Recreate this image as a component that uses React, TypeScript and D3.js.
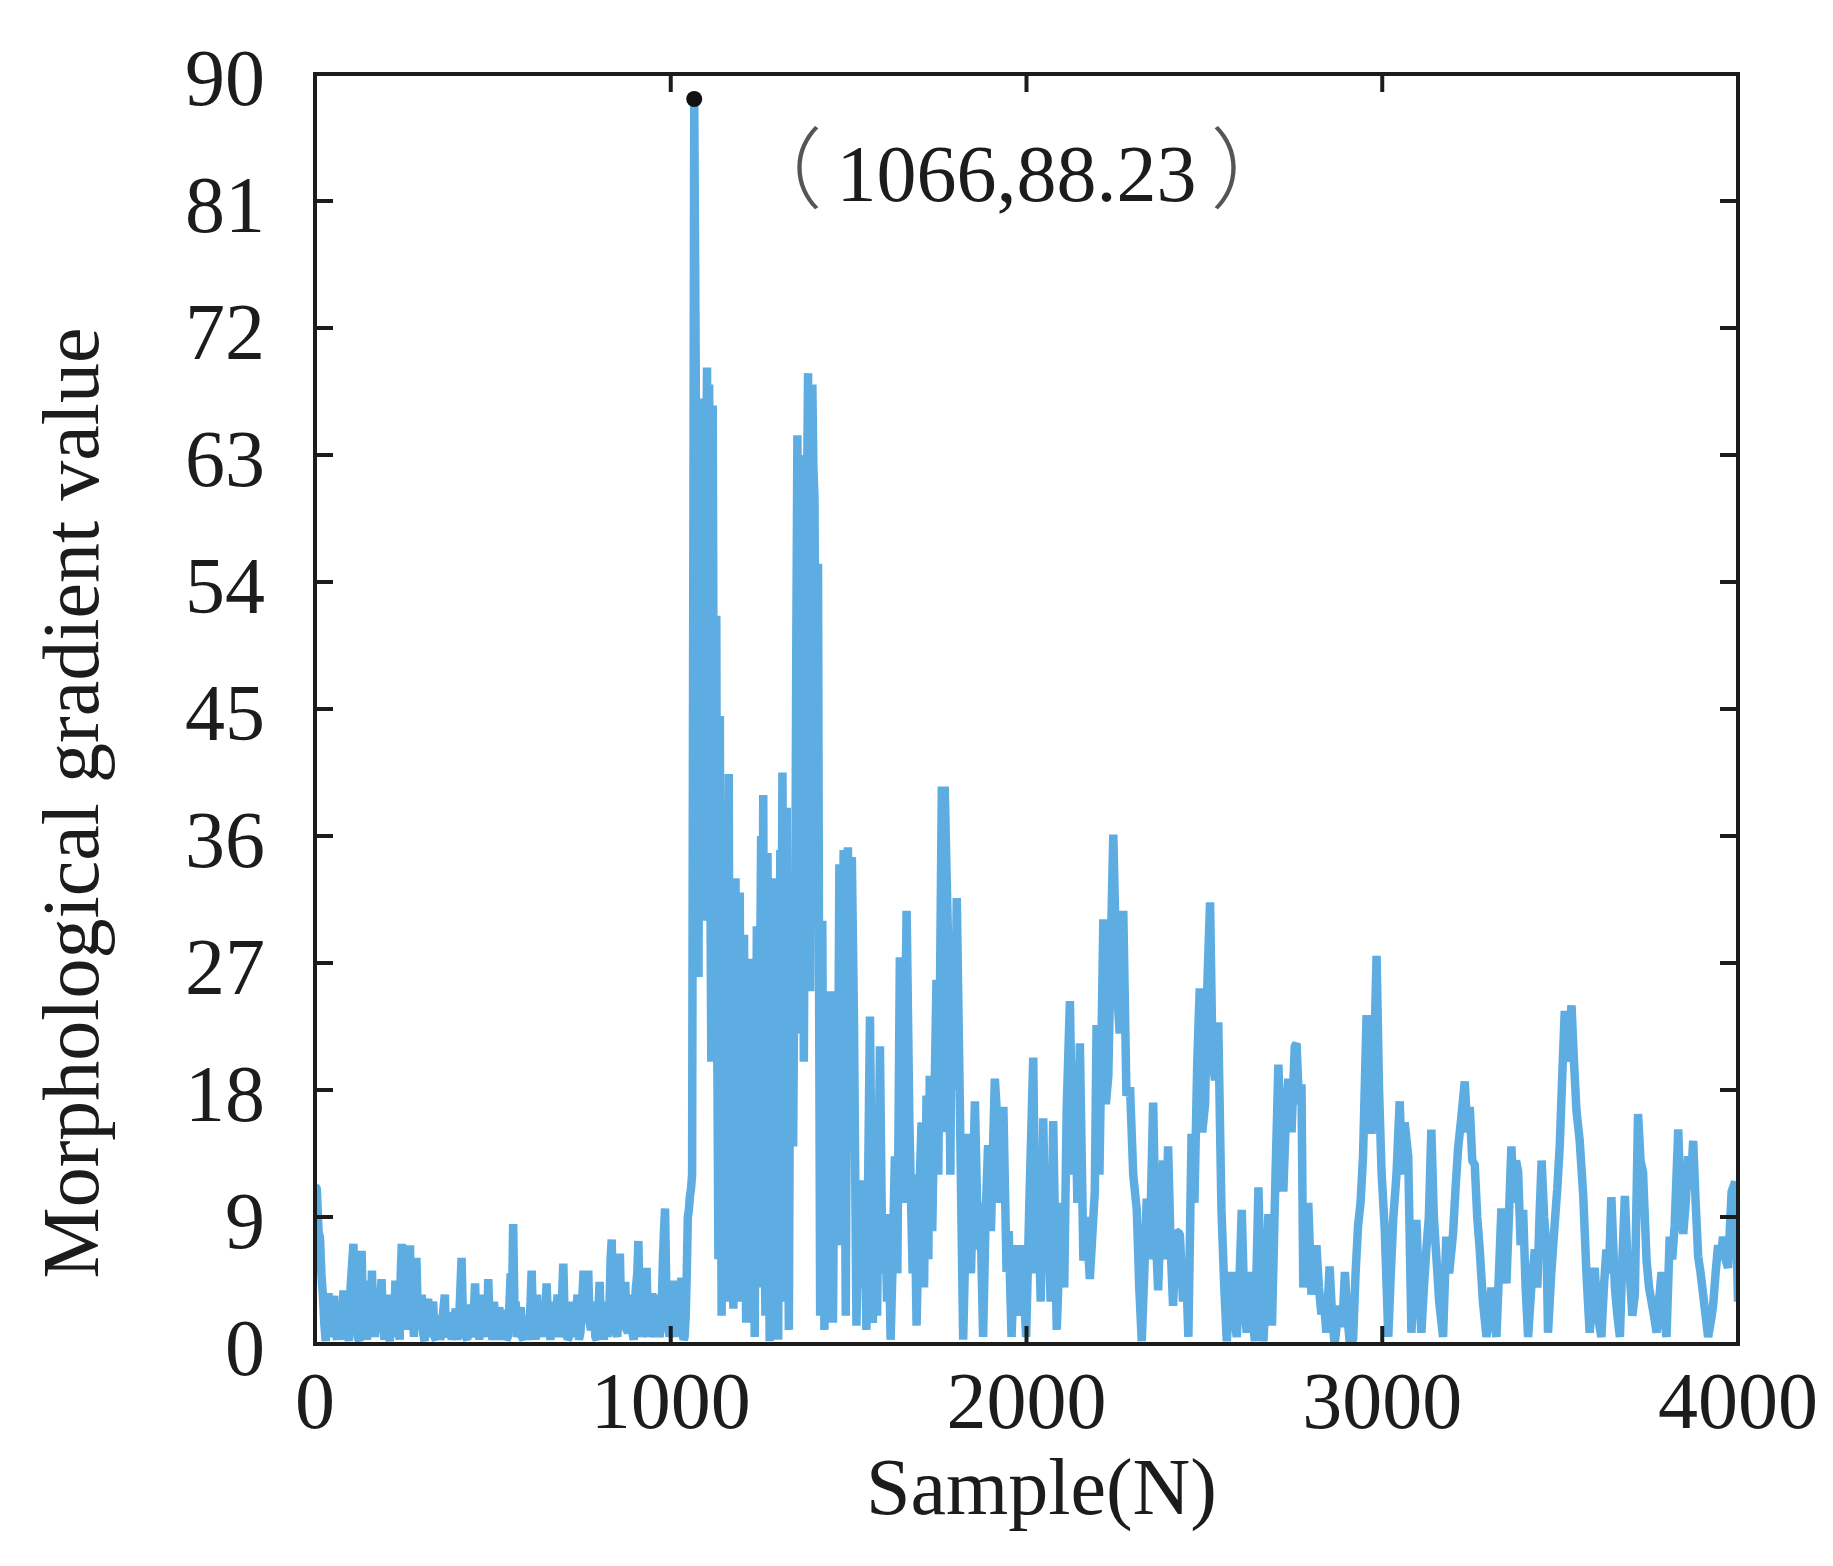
import * as React from "react";
import * as d3 from "d3";

// [sample N, morphological gradient value]
const preFault: [number, number][] = [
  [0, 11.2], [5, 11.0], [10, 8], [14, 7.5], [18, 5], [22, 3.5], [26, 1.5], [30, 0.2], [34, 2.5], [38, 3.6],
  [42, 0.5], [46, 1.0], [50, 2.8], [54, 3.4], [58, 0.8], [62, 0.3], [66, 2.0], [70, 2.5], [75, 0.3], [80, 3.8],
  [85, 0.5], [90, 1.5], [95, 0.2], [100, 4.0], [104, 5.5], [108, 7.1], [112, 2.0], [116, 3.0], [120, 0.5], [124, 0.2],
  [128, 4.5], [131, 6.6], [135, 2.0], [138, 4.5], [142, 1.0], [146, 0.3], [150, 2.0], [154, 2.5], [157, 0.5], [160, 5.2],
  [164, 2.0], [168, 0.5], [172, 2.5], [176, 3.5], [180, 0.8], [184, 3.0], [187, 4.6], [191, 1.5], [195, 0.3], [199, 2.5],
  [203, 3.5], [207, 0.8], [210, 0.2], [214, 2.0], [218, 2.8], [222, 0.5], [226, 4.5], [230, 1.0], [234, 1.5], [238, 0.3],
  [241, 5.0], [244, 7.1], [248, 2.5], [252, 3.0], [255, 1.0], [258, 6.8], [262, 3.5], [267, 7.0], [270, 2.0], [274, 3.0],
  [278, 0.5], [282, 4.0], [285, 6.1], [289, 2.0], [292, 1.0], [296, 2.5], [300, 3.5], [304, 0.8], [308, 0.2], [312, 2.5],
  [318, 3.2], [322, 0.5], [326, 1.0], [329, 2.5], [332, 3.0], [336, 0.5], [340, 0.3], [344, 1.8], [348, 2.0], [352, 0.3],
  [356, 0.8], [360, 2.2], [365, 3.5], [368, 0.8], [372, 0.5], [376, 2.0], [380, 2.2], [384, 0.3], [388, 0.8], [392, 2.0],
  [396, 2.5], [400, 0.3], [404, 1.0], [408, 3.5], [412, 6.1], [416, 1.5], [420, 2.5], [424, 0.5], [428, 0.3], [432, 2.0],
  [436, 2.8], [440, 0.5], [444, 1.0], [447, 2.5], [450, 4.3], [454, 0.8], [458, 1.5], [462, 0.3], [466, 3.5], [470, 1.0],
  [474, 0.5], [477, 2.0], [480, 3.0], [484, 1.0], [487, 4.6], [491, 1.5], [495, 1.2], [499, 0.3], [503, 3.0], [507, 1.0],
  [510, 0.5], [514, 2.0], [518, 2.6], [522, 0.3], [526, 1.0], [530, 2.0], [534, 2.4], [538, 0.3], [542, 0.5], [546, 2.5],
  [550, 5.0], [554, 3.0], [557, 8.5], [561, 2.0], [564, 3.0], [567, 0.5], [570, 0.8], [574, 2.0], [578, 2.6], [582, 0.5],
  [586, 0.3], [590, 1.5], [594, 2.0], [598, 0.3], [602, 1.0], [606, 3.0], [609, 5.2], [613, 1.0], [616, 1.5], [620, 0.3],
  [624, 3.5], [628, 1.0], [632, 0.5], [636, 2.0], [640, 2.5], [644, 0.5], [648, 2.5], [651, 4.3], [655, 1.5], [658, 1.0],
  [662, 0.3], [666, 3.0], [670, 1.0], [674, 0.5], [678, 2.0], [682, 3.5], [686, 0.5], [690, 1.0], [694, 3.0], [698, 5.7],
  [702, 1.5], [706, 2.0], [710, 0.3], [714, 0.5], [718, 2.0], [722, 3.0], [726, 0.5], [730, 1.0], [734, 2.0], [738, 3.5],
  [742, 0.3], [746, 0.8], [750, 2.5], [755, 5.2], [758, 2.0], [762, 3.0], [765, 2.0], [768, 5.2], [772, 1.5], [776, 1.0],
  [780, 2.0], [784, 3.0], [788, 0.5], [792, 0.3], [796, 2.0], [800, 4.4], [804, 1.0], [808, 1.5], [812, 0.3], [816, 3.0],
  [820, 1.0], [824, 0.5], [828, 3.0], [831, 6.0], [834, 7.4], [838, 2.0], [842, 3.0], [846, 1.0], [850, 0.5], [854, 4.0],
  [857, 6.4], [861, 1.5], [864, 2.0], [868, 1.0], [872, 4.4], [876, 1.0], [880, 0.8], [884, 2.5], [888, 3.5], [892, 0.8],
  [896, 0.3], [899, 2.5], [902, 4.0], [906, 5.0], [909, 7.3], [913, 2.0], [916, 3.0], [920, 0.5], [924, 1.0], [928, 3.0],
  [932, 5.4], [936, 1.0], [940, 1.5], [944, 0.5], [948, 3.6], [952, 1.0], [956, 0.5], [960, 2.0], [964, 3.5], [968, 0.5],
  [972, 1.0], [975, 3.0], [978, 6.0], [981, 8.0], [984, 9.6], [988, 3.0], [992, 4.0], [996, 0.5], [1000, 1.0], [1004, 3.0],
  [1007, 4.5], [1011, 1.0], [1014, 1.5], [1018, 0.5], [1022, 3.0], [1026, 1.5], [1030, 4.7], [1033, 1.0], [1036, 0.3], [1039, 0.5],
  [1042, 2.0], [1045, 5.0], [1048, 9.0], [1051, 9.5], [1054, 10.5], [1057, 11.0], [1060, 12.0],
];

const faultBurst: [number, number][] = [
  [1066, 88.23], [1070, 70], [1074, 40], [1078, 26], [1081, 55], [1084, 67], [1087, 45], [1090, 66], [1093, 40], [1096, 30],
  [1099, 60], [1102, 69.2], [1105, 50], [1108, 68], [1111, 35], [1114, 20], [1116, 50], [1118, 66.5], [1121, 40], [1124, 50],
  [1126, 30], [1128, 51.6], [1131, 20], [1134, 6], [1136, 30], [1138, 44.5], [1141, 15], [1143, 2], [1146, 20], [1150, 30],
  [1153, 12], [1156, 3], [1160, 25], [1163, 40.4], [1166, 15], [1170, 28], [1173, 10], [1176, 2.5], [1179, 20], [1182, 33],
  [1185, 18], [1188, 5], [1191, 22], [1194, 32], [1197, 12], [1200, 3], [1203, 20], [1206, 29], [1209, 10], [1212, 1.5],
  [1215, 18], [1218, 27], [1221, 12], [1224, 3], [1227, 18], [1230, 27.3], [1233, 10], [1236, 0.5], [1239, 15], [1242, 29.6],
  [1245, 14], [1248, 4], [1251, 25], [1254, 36], [1257, 20], [1260, 38.9], [1263, 15], [1266, 2], [1269, 20], [1272, 34.8],
  [1275, 12], [1278, 0.2], [1281, 20], [1284, 33], [1287, 18], [1290, 8], [1293, 22], [1296, 30], [1299, 10], [1302, 0.3],
  [1305, 22], [1308, 35], [1311, 25], [1314, 40.5], [1317, 15], [1320, 3], [1323, 25], [1326, 38], [1329, 12], [1332, 1],
  [1335, 20], [1338, 33], [1341, 22], [1344, 14], [1347, 25], [1350, 30], [1353, 50], [1356, 64.4], [1359, 40], [1362, 22],
  [1365, 45], [1368, 63], [1371, 40], [1374, 20], [1377, 35], [1380, 45], [1383, 60], [1386, 68.8], [1389, 45], [1392, 25],
  [1395, 50], [1398, 68], [1401, 62], [1404, 60], [1407, 45], [1410, 30], [1412, 45], [1414, 55.3], [1417, 25], [1420, 2],
  [1423, 18], [1426, 30], [1429, 12], [1432, 1], [1435, 12], [1438, 20], [1441, 10], [1444, 3], [1447, 15], [1450, 25],
  [1453, 10], [1456, 1.5], [1459, 12], [1462, 20], [1465, 12], [1468, 7], [1471, 20], [1474, 34], [1477, 20], [1480, 10],
  [1483, 25], [1486, 35], [1489, 15], [1492, 2], [1495, 20], [1498, 35.2], [1501, 28], [1504, 20], [1507, 28], [1509, 34.5],
];

const afterFault: [number, number][] = [
  [1515, 23.1], [1522, 1.3], [1530, 11.6], [1538, 4], [1545, 11.6], [1550, 1.0], [1560, 23.2], [1568, 1.5], [1575, 10], [1580, 2],
  [1588, 21.1], [1595, 5], [1603, 9.2], [1608, 3], [1612, 9.2], [1618, 0.3], [1624, 6], [1630, 13.3], [1637, 5], [1644, 27.4],
  [1652, 10], [1663, 30.7], [1671, 15.4], [1680, 5], [1685, 12], [1691, 1.3], [1698, 10], [1705, 15.7], [1712, 4], [1719, 17.6],
  [1724, 6], [1728, 19], [1735, 8], [1747, 25.8], [1752, 12], [1762, 39.5], [1766, 15], [1770, 39.5], [1780, 28], [1786, 12],
  [1790, 28.5], [1798, 18], [1804, 31.6], [1813, 16.3], [1822, 0.3], [1829, 8], [1836, 14.9], [1844, 5], [1855, 17.2], [1864, 6.7],
  [1870, 10], [1878, 0.5], [1885, 9], [1892, 14.1], [1900, 8], [1911, 18.8], [1920, 15], [1926, 10], [1935, 16.8], [1944, 5.1],
  [1950, 8], [1958, 0.5], [1967, 7.0], [1975, 2], [1986, 7], [1999, 0.5], [2008, 10], [2019, 20.3], [2026, 5], [2033, 9.5],
  [2040, 3], [2047, 16], [2054, 6], [2061, 8.1], [2068, 3], [2075, 15.8], [2085, 1.0], [2092, 6], [2099, 10], [2106, 4],
  [2113, 16.7], [2122, 24.3], [2130, 12], [2136, 20], [2143, 10], [2150, 21.3], [2160, 5.9], [2168, 9], [2178, 4.6], [2192, 10.8],
  [2197, 22.6], [2205, 12], [2216, 30.1], [2223, 17], [2230, 19], [2237, 28], [2244, 36.1], [2253, 25.8], [2262, 22], [2272, 30.7],
  [2281, 17.6], [2291, 18.2], [2300, 12], [2310, 9.5], [2317, 4], [2324, 0.2], [2331, 5], [2338, 10.3], [2346, 6], [2356, 17.1],
  [2363, 8], [2370, 3.8], [2377, 9], [2384, 13], [2391, 6], [2398, 14], [2405, 7], [2412, 2.7], [2420, 8], [2431, 7.8],
  [2440, 3], [2448, 6], [2455, 0.5], [2464, 14.9], [2472, 10], [2480, 20], [2487, 25.2], [2494, 15], [2502, 17], [2509, 26],
  [2516, 31.3], [2523, 20], [2530, 18.7], [2539, 22.8], [2548, 9.5], [2556, 4], [2563, 0.2], [2570, 3], [2577, 5.1], [2584, 2],
  [2591, 0.5], [2598, 4], [2605, 9.5], [2612, 3], [2619, 0.8], [2628, 5.1], [2635, 2], [2642, 0.2], [2652, 11.1], [2659, 3],
  [2666, 0.2], [2673, 4], [2680, 9.2], [2690, 1.3], [2700, 12], [2708, 19.8], [2715, 14], [2722, 10.8], [2729, 16], [2736, 18.8],
  [2745, 15], [2754, 21.1],
];

const tail: [number, number][] = [
  [2759, 21.3], [2766, 17], [2773, 18.4], [2778, 4], [2785, 7], [2792, 10], [2801, 3.5], [2808, 5], [2815, 7], [2822, 4],
  [2829, 2.1], [2836, 3], [2843, 0.8], [2852, 5.5], [2859, 2], [2866, 0], [2873, 1.5], [2880, 2.7], [2888, 1.2], [2895, 5.1],
  [2902, 2], [2909, 0], [2918, 0.3], [2925, 5], [2932, 8.4], [2939, 10], [2946, 13.3], [2956, 23.3], [2963, 18], [2970, 14.9],
  [2977, 20], [2984, 27.5], [2991, 18], [2998, 12.2], [3007, 8.1], [3017, 0.5], [3024, 5], [3031, 8.9], [3040, 12], [3049, 17.2],
  [3056, 12], [3063, 15.7], [3073, 13.3], [3082, 0.8], [3089, 5], [3096, 8.8], [3103, 4], [3110, 0.8], [3117, 4], [3124, 6.7],
  [3131, 9], [3138, 15.2], [3145, 9], [3152, 6.2], [3160, 3], [3171, 0.5], [3180, 7.6], [3188, 5], [3199, 7.8], [3206, 11],
  [3213, 13.8], [3222, 16], [3232, 18.6], [3239, 15], [3246, 16.8], [3253, 13], [3260, 12.7], [3267, 9], [3274, 6.7], [3283, 3],
  [3293, 0.5], [3300, 2], [3307, 4], [3314, 2], [3321, 0.5], [3328, 5], [3335, 9.6], [3342, 6], [3349, 4.3], [3356, 9],
  [3363, 14], [3370, 10], [3376, 13], [3382, 12.2], [3389, 7], [3396, 9.5], [3403, 4], [3410, 0.5], [3419, 4], [3429, 6.7],
  [3436, 4], [3442, 9], [3448, 13], [3455, 9], [3462, 6.7], [3466, 0.8], [3475, 5], [3485, 8.6], [3492, 11], [3499, 14.1],
  [3506, 19], [3513, 23.6], [3520, 20], [3526, 22], [3532, 24], [3539, 20], [3546, 16.5], [3555, 14.4], [3565, 10.5], [3574, 5],
  [3583, 0.8], [3590, 3], [3597, 5.4], [3606, 2], [3616, 0.5], [3623, 4], [3630, 6.7], [3637, 5], [3644, 10.4], [3654, 4],
  [3661, 2], [3668, 0.5], [3675, 6], [3682, 10.5], [3689, 6], [3696, 4.9], [3703, 2], [3710, 3.5], [3719, 16.3], [3726, 13],
  [3733, 12.2], [3743, 5.9], [3750, 4], [3757, 3], [3764, 2], [3771, 0.8], [3778, 3], [3785, 5.1], [3792, 2], [3799, 0.5],
  [3808, 7.6], [3815, 6], [3822, 8.4], [3832, 15.2], [3839, 10], [3846, 7.8], [3853, 10], [3860, 13.3], [3867, 11], [3874, 14.4],
  [3881, 10], [3888, 6.2], [3895, 5], [3902, 3.5], [3909, 2], [3916, 0.5], [3923, 1.5], [3930, 2.7], [3937, 5], [3944, 7],
  [3951, 6], [3958, 7.6], [3965, 6], [3972, 5.4], [3982, 10.8], [3992, 11.5], [4000, 3],
];

const peak: [number, number] = [1066, 88.23];
const xTicks = [0, 1000, 2000, 3000, 4000];
const yTicks = [0, 9, 18, 27, 36, 45, 54, 63, 72, 81, 90];

const W = 1833;
const H = 1566;
const MARGIN = { top: 74, right: 95, bottom: 222, left: 315 };
const FONT = "'Liberation Serif', 'Times New Roman', serif";
const CJK = "'Noto Sans CJK SC', sans-serif";
const INK = "#1c1c1c";
const TICK = 18;

export default function App() {
  const innerW = W - MARGIN.left - MARGIN.right;
  const innerH = H - MARGIN.top - MARGIN.bottom;

  const x = d3.scaleLinear().domain([0, 4000]).range([0, innerW]);
  const y = d3.scaleLinear().domain([0, 90]).range([innerH, 0]);

  const series = [...preFault, ...faultBurst, ...afterFault, ...tail];
  const line = d3
    .line<[number, number]>()
    .x((d) => x(d[0]))
    .y((d) => y(d[1]));

  return (
    <>
      <style>{"body{margin:0;background:#fff}"}</style>
      <svg width={W} height={H} style={{ display: "block", background: "#fff" }}>
        <defs>
          <clipPath id="plot-clip">
            <rect x={0} y={-10} width={innerW} height={innerH + 10} />
          </clipPath>
        </defs>
        <g transform={`translate(${MARGIN.left},${MARGIN.top})`}>
          <path
            d={line(series) ?? ""}
            fill="none"
            stroke="#5dade2"
            strokeWidth={8.5}
            strokeLinejoin="bevel"
            clipPath="url(#plot-clip)"
          />

          {/* ticks, inward on all four sides */}
          {xTicks.map((t) => (
            <g key={`xt-${t}`} stroke={INK} strokeWidth={4}>
              <line x1={x(t)} x2={x(t)} y1={innerH} y2={innerH - TICK} />
              <line x1={x(t)} x2={x(t)} y1={0} y2={TICK} />
            </g>
          ))}
          {yTicks.map((t) => (
            <g key={`yt-${t}`} stroke={INK} strokeWidth={4}>
              <line x1={0} x2={TICK} y1={y(t)} y2={y(t)} />
              <line x1={innerW} x2={innerW - TICK} y1={y(t)} y2={y(t)} />
            </g>
          ))}
          <rect x={0} y={0} width={innerW} height={innerH} fill="none" stroke={INK} strokeWidth={4} />

          {/* peak marker */}
          <circle cx={x(peak[0])} cy={y(peak[1])} r={8} fill="#111" />
          <text
            x={x(2000) - 10}
            y={y(peak[1]) + 102}
            textAnchor="middle"
            fontFamily={FONT}
            fontSize={80}
            fill={INK}
          >
            <tspan fontFamily={CJK} fontSize={88} fontWeight={300} fill="#555">（</tspan>
            <tspan dx={14}>{peak[0]},{peak[1]}</tspan>
            <tspan dx={14} fontFamily={CJK} fontSize={88} fontWeight={300} fill="#555">）</tspan>
          </text>

          {/* tick labels */}
          {xTicks.map((t) => (
            <text
              key={`xl-${t}`}
              x={x(t)}
              y={innerH + 84}
              textAnchor="middle"
              fontFamily={FONT}
              fontSize={80}
              fill={INK}
            >
              {t}
            </text>
          ))}
          {yTicks.map((t) => (
            <text
              key={`yl-${t}`}
              x={-50}
              y={y(t) + 31}
              textAnchor="end"
              fontFamily={FONT}
              fontSize={80}
              fill={INK}
            >
              {t}
            </text>
          ))}

          {/* axis titles */}
          <text
            x={innerW / 2 + 15}
            y={innerH + 170}
            textAnchor="middle"
            fontFamily={FONT}
            fontSize={80}
            fill={INK}
          >
            Sample(N)
          </text>
          <text
            transform={`translate(${-217},${innerH / 2 + 94}) rotate(-90)`}
            textAnchor="middle"
            fontFamily={FONT}
            fontSize={80}
            fill={INK}
          >
            Morphological gradient value
          </text>
        </g>
      </svg>
    </>
  );
}
